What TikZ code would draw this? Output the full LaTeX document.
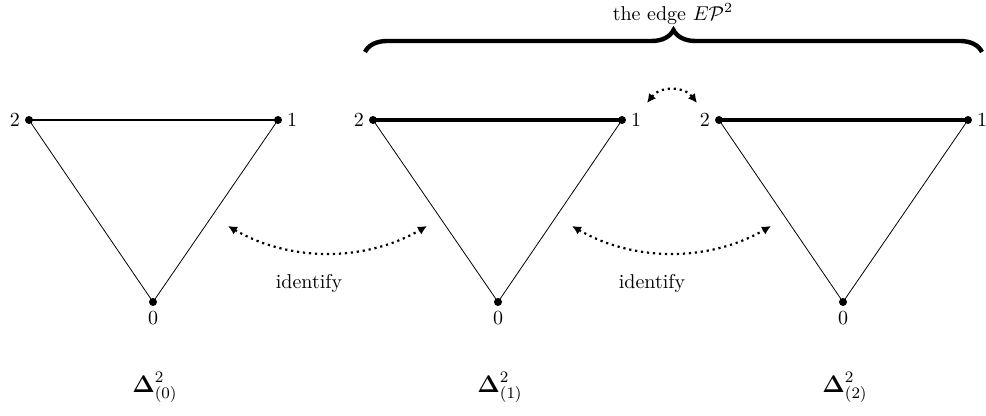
\documentclass[tikz,border=0pt]{standalone}
\usepackage{amsmath}
\usepackage{amssymb}
\usepackage{tikz}
\usetikzlibrary{arrows.meta, decorations.pathreplacing}

\begin{document}
\begin{tikzpicture}[
  x=0.5pt, y=-0.5pt,
  side/.style={line width=0.4pt},
  topedge/.style={line width=0.9pt},
  fatedge/.style={line width=2.2pt},
  vdot/.style={circle, fill=black, inner sep=0pt, minimum size=4pt},
  ident/.style={{Latex[length=4.5pt,width=4.5pt]}-{Latex[length=4.5pt,width=4.5pt]}, line width=1.1pt, dash pattern=on 1.1pt off 1.9pt},
  simplex/.style={font=\large}
]
\useasboundingbox (0,0) rectangle (986,416);

% ---- FIRST SIMPLEX ----
\node[vdot] (v02) at (29,120) {};
\node[vdot] (v01) at (278,120) {};
\node[vdot] (v00) at (153,302) {};
\draw[side] (v02.center) -- (v00.center) -- (v01.center);
\draw[topedge] (v02.center) -- (v01.center);
\node[left=1pt] at (v02) {2};
\node[right=1pt] at (v01) {1};
\node[below=1pt] at (v00) {0};
\node[simplex] (d0) at (155,387) {$\boldsymbol{\Delta}^2_{(0)}$};

% ---- SECOND SIMPLEX ----
\node[vdot] (v12) at (373,120) {};
\node[vdot] (v11) at (622,120) {};
\node[vdot] (v10) at (498,302) {};
\draw[side] (v12.center) -- (v10.center) -- (v11.center);
\draw[fatedge] (v12.center) -- (v11.center);
\node[left=1pt] at (v12) {2};
\node[right=1pt] at (v11) {1};
\node[below=1pt] at (v10) {0};
\node[simplex] (d1) at (500,387) {$\boldsymbol{\Delta}^2_{(1)}$};

% ---- THIRD SIMPLEX ----
\node[vdot] (v22) at (719,120) {};
\node[vdot] (v21) at (968,120) {};
\node[vdot] (v20) at (843,302) {};
\draw[side] (v22.center) -- (v20.center) -- (v21.center);
\draw[fatedge] (v22.center) -- (v21.center);
\node[left=1pt] at (v22) {2};
\node[right=1pt] at (v21) {1};
\node[below=1pt] at (v20) {0};
\node[simplex] (d2) at (845,387) {$\boldsymbol{\Delta}^2_{(2)}$};

% ---- IDENTIFICATIONS ----
\coordinate (pa) at (228,226);
\coordinate (pb) at (427,226);
\coordinate (pc) at (572,226);
\coordinate (pd) at (771,226);
\coordinate (pe) at (647,103);
\coordinate (pf) at (697,103);
\draw[ident] (pa) .. controls (290,262) and (365,262) .. (pb);
\draw[ident] (pc) .. controls (634,262) and (709,262) .. (pd);
\draw[ident] (pe) .. controls (660,86) and (684,86) .. (pf);
\node (id1) at (309,284) {identify};
\node (id2) at (652,284) {identify};

% ---- THE EDGE ----
\coordinate (bl) at (365,52);
\coordinate (br) at (982,52);
\draw[line width=2.2pt, decorate, decoration={brace, amplitude=11pt}] (bl) -- (br);
\node (edge) at (673,14) {the edge $E\mathcal{P}^2$};
\end{tikzpicture}
\end{document}
